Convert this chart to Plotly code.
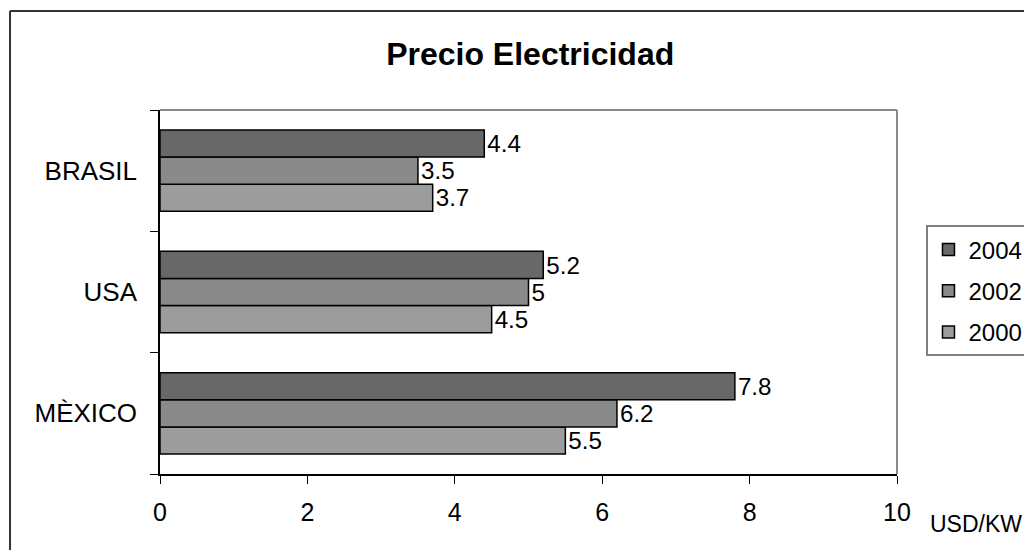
import plotly.graph_objects as go

FONT = "Liberation Sans, Arial, sans-serif"

countries = ["MÈXICO", "USA", "BRASIL"]
years = ["2000", "2002", "2004"]
price_2000 = [5.5, 4.5, 3.7]
price_2002 = [6.2, 5.0, 3.5]
price_2004 = [7.8, 5.2, 4.4]
x_ticks = [0, 2, 4, 6, 8, 10]

series = {"2000": price_2000, "2002": price_2002, "2004": price_2004}
colors = {"2000": "#9c9c9c", "2002": "#8a8a8a", "2004": "#686868"}

fig = go.Figure()
for i, yr in enumerate(years):
    vals = series[yr]
    fig.add_trace(
        go.Bar(
            y=countries,
            x=vals,
            name=yr,
            legendgroup=yr,
            legendrank=1000 - i,  # newest year on top of the legend
            orientation="h",
            marker=dict(color=colors[yr], line=dict(color="black", width=1.5)),
            text=[f"{v:g}" for v in vals],
            textposition="outside",
            textfont=dict(family=FONT, size=25, color="black"),
            cliponaxis=False,
        )
    )

# page body adds an 8px offset, so margins are shifted up/left by 8
fig.update_layout(
    width=1032,
    height=550,
    margin=dict(l=152, r=143, t=102, b=84, autoexpand=False),
    paper_bgcolor="white",
    plot_bgcolor="white",
    barmode="group",
    bargap=0.33,
    bargroupgap=0,
    font=dict(family=FONT, size=25, color="black"),
    title=dict(
        text="<b>Precio Electricidad</b>",
        x=0.506,
        xanchor="center",
        y=0.916,
        yanchor="middle",
        font=dict(family=FONT, size=32, color="black"),
    ),
    showlegend=True,
    legend=dict(
        traceorder="grouped",
        tracegroupgap=7,
        x=1.04,
        xanchor="left",
        y=0.503,
        yanchor="middle",
        bordercolor="#808080",
        borderwidth=2,
        bgcolor="white",
        font=dict(family=FONT, size=24),
        itemwidth=30,
    ),
    xaxis=dict(
        range=[0, 10],
        tickvals=x_ticks,
        ticks="outside",
        ticklen=8,
        tickcolor="black",
        showline=True,
        linecolor="black",
        linewidth=1.5,
        showgrid=False,
        zeroline=False,
        ticklabelstandoff=7,
        tickfont=dict(family=FONT, size=25),
    ),
    yaxis=dict(
        categoryorder="array",
        categoryarray=countries,
        tickson="boundaries",
        ticks="outside",
        ticklen=8,
        tickcolor="black",
        showline=True,
        linecolor="black",
        linewidth=1.5,
        showgrid=False,
        ticklabelstandoff=16,
        tickfont=dict(family=FONT, size=26),
    ),
)

# gray plot-area frame on top/right, like Excel
fig.add_shape(type="line", xref="paper", yref="paper", x0=0, x1=1, y0=1, y1=1,
              line=dict(color="#8c8c8c", width=2))
fig.add_shape(type="line", xref="paper", yref="paper", x0=1, x1=1, y0=0, y1=1,
              line=dict(color="#8c8c8c", width=2))

# outer chart border (cropped on right and bottom)
fig.add_shape(type="line", xref="paper", yref="paper", x0=-0.2035, x1=-0.2035, y0=-0.3, y1=1.272,
              line=dict(color="#333333", width=2))
fig.add_shape(type="line", xref="paper", yref="paper", x0=-0.2035, x1=1.3, y0=1.272, y1=1.272,
              line=dict(color="#333333", width=2))

fig.add_annotation(
    text="USD/KW", xref="paper", yref="paper", x=1.042, y=-0.137,
    xanchor="left", yanchor="middle", showarrow=False,
    font=dict(family=FONT, size=23, color="black"),
)

fig.write_html("out.html")
